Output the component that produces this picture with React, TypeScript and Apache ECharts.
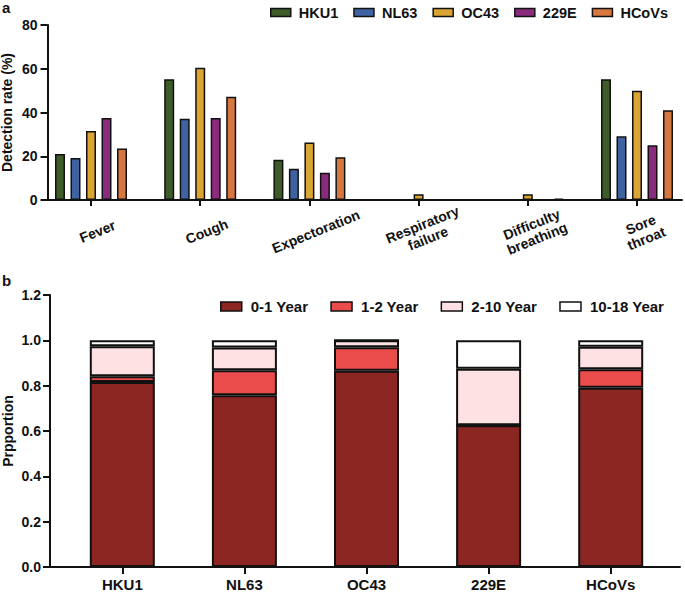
import React, { useEffect, useRef } from "react";
import * as echarts from "echarts";

const FONT = "'Liberation Sans', Arial, Helvetica, sans-serif";
const INK = "#111111";

// Panel a: detection rate (%) by symptom
const symptoms = ["Fever", "Cough", "Expectoration", "Respiratory\nfailure", "Difficulty\nbreathing", "Sore\nthroat"];
const virusNames = ["HKU1", "NL63", "OC43", "229E", "HCoVs"];
const virusColors = ["#3e5b2a", "#3f63a1", "#dba534", "#8a2b7e", "#d6773f"];
const hku1Rate = [21.0, 55.2, 18.4, 0, 0, 55.2];
const nl63Rate = [19.2, 37.2, 14.3, 0, 0, 29.1];
const oc43Rate = [31.6, 60.5, 26.3, 2.6, 2.6, 50.0];
const e229Rate = [37.5, 37.5, 12.5, 0, 0, 25.0];
const hcovsRate = [23.5, 47.2, 19.5, 0, 0.6, 41.0];
const rateSeries = [hku1Rate, nl63Rate, oc43Rate, e229Rate, hcovsRate];
const rateTicks = { min: 0, max: 80, interval: 20 };

// Panel b: age proportion by virus
const virusCats = ["HKU1", "NL63", "OC43", "229E", "HCoVs"];
const ageNames = ["0-1 Year", "1-2 Year", "2-10 Year", "10-18 Year"];
const ageColors = ["#8c2623", "#e94c4b", "#fde1e3", "#ffffff"];
const age0to1 = [0.816, 0.758, 0.866, 0.625, 0.791];
const age1to2 = [0.026, 0.11, 0.104, 0, 0.081];
const age2to10 = [0.132, 0.1, 0.03, 0.25, 0.1];
const age10to18 = [0.026, 0.032, 0, 0.125, 0.028];
const ageSeries = [age0to1, age1to2, age2to10, age10to18];
const propTicks = { min: 0, max: 1.2, interval: 0.2 };

const boldText = (size: number) => ({
  fontSize: size,
  fontWeight: "bold" as const,
  fontFamily: FONT,
  color: INK,
});

export default function App() {
  const ref = useRef<HTMLDivElement>(null);

  useEffect(() => {
    if (!ref.current) return;
    const chart = echarts.init(ref.current, undefined, { renderer: "svg" });
    const axisLineStyle = { color: INK, width: 2 };

    const option: any = {
      animation: false,
      backgroundColor: "#ffffff",
      title: [
        { text: "a", left: 2, top: 0, padding: 0, textStyle: boldText(15) },
        { text: "b", left: 2, top: 273, padding: 0, textStyle: boldText(15) },
      ],
      legend: [
        {
          data: virusNames,
          left: 270,
          top: 5,
          padding: 0,
          icon: "rect",
          itemWidth: 20,
          itemHeight: 8,
          itemGap: 15,
          itemStyle: { borderColor: INK, borderWidth: 1.5 },
          textStyle: { ...boldText(14.5), padding: [0, 0, 0, 3] },
        },
        {
          data: ageNames,
          left: 220,
          top: 299,
          padding: 0,
          icon: "rect",
          itemWidth: 21,
          itemHeight: 9,
          itemGap: 22,
          itemStyle: { borderColor: INK, borderWidth: 1.5 },
          textStyle: { ...boldText(15), padding: [0, 0, 0, 4] },
        },
      ],
      grid: [
        { left: 36.4, top: 25, width: 655.2, height: 175, outerBoundsMode: "none" },
        { left: 47.5, top: 25, width: 634.5, height: 175, outerBoundsMode: "none" },
        { left: 61.25, top: 295, width: 610.5, height: 272, outerBoundsMode: "none" },
        { left: 50, top: 295, width: 630, height: 272, outerBoundsMode: "none" },
      ],
      xAxis: [
        {
          gridIndex: 0,
          type: "category",
          data: symptoms,
          axisLine: { show: false },
          axisTick: { show: true, alignWithLabel: true, length: 6, lineStyle: axisLineStyle },
          axisLabel: {
            interval: 0,
            rotate: 22,
            align: "center",
            verticalAlign: "middle",
            margin: 34,
            padding: [0, 0, 0, 14],
            lineHeight: 15,
            ...boldText(14),
          },
          splitLine: { show: false },
        },
        {
          gridIndex: 1,
          type: "value",
          min: 0,
          max: 1,
          axisLine: { show: true, onZero: false, lineStyle: axisLineStyle },
          axisTick: { show: false },
          axisLabel: { show: false },
          splitLine: { show: false },
        },
        {
          gridIndex: 2,
          type: "category",
          data: virusCats,
          axisLine: { show: false },
          axisTick: { show: true, alignWithLabel: true, length: 7, lineStyle: axisLineStyle },
          axisLabel: { interval: 0, margin: 10, lineHeight: 14, ...boldText(15) },
          splitLine: { show: false },
        },
        {
          gridIndex: 3,
          type: "value",
          min: 0,
          max: 1,
          axisLine: { show: true, onZero: false, lineStyle: axisLineStyle },
          axisTick: { show: false },
          axisLabel: { show: false },
          splitLine: { show: false },
        },
      ],
      yAxis: [
        { gridIndex: 0, type: "value", min: rateTicks.min, max: rateTicks.max, show: false },
        {
          gridIndex: 1,
          type: "value",
          min: rateTicks.min,
          max: rateTicks.max,
          interval: rateTicks.interval,
          axisLine: { show: true, onZero: false, lineStyle: axisLineStyle },
          axisTick: { show: true, length: 7, lineStyle: axisLineStyle },
          axisLabel: { margin: 10, ...boldText(14) },
          splitLine: { show: false },
          name: "Detection rate (%)",
          nameLocation: "middle",
          nameGap: 33,
          nameMoveOverlap: false,
          nameTextStyle: { ...boldText(14), lineHeight: 15 },
        },
        { gridIndex: 2, type: "value", min: propTicks.min, max: propTicks.max, show: false },
        {
          gridIndex: 3,
          type: "value",
          min: propTicks.min,
          max: propTicks.max,
          interval: propTicks.interval,
          axisLine: { show: true, onZero: false, lineStyle: axisLineStyle },
          axisTick: { show: true, length: 7, lineStyle: axisLineStyle },
          axisLabel: { margin: 9, formatter: (v: number) => v.toFixed(1), ...boldText(14) },
          splitLine: { show: false },
          name: "Prpportion",
          nameLocation: "middle",
          nameGap: 35,
          nameMoveOverlap: false,
          nameTextStyle: { ...boldText(14), lineHeight: 15 },
        },
      ],
      series: [
        ...virusNames.map((name, i) => ({
          name,
          type: "bar",
          xAxisIndex: 0,
          yAxisIndex: 0,
          data: rateSeries[i],
          barWidth: 10,
          barGap: "55%",
          itemStyle: { color: virusColors[i], borderColor: INK, borderWidth: 1.5 },
        })),
        ...ageNames.map((name, i) => ({
          name,
          type: "bar",
          stack: "age",
          xAxisIndex: 2,
          yAxisIndex: 2,
          data: ageSeries[i],
          barWidth: 65,
          itemStyle: { color: ageColors[i], borderColor: INK, borderWidth: 2 },
        })),
      ],
    };

    chart.setOption(option);
    return () => chart.dispose();
  }, []);

  return (
    <div
      ref={ref}
      style={{ position: "absolute", left: 0, top: 0, width: 685, height: 592, background: "#fff" }}
    />
  );
}
